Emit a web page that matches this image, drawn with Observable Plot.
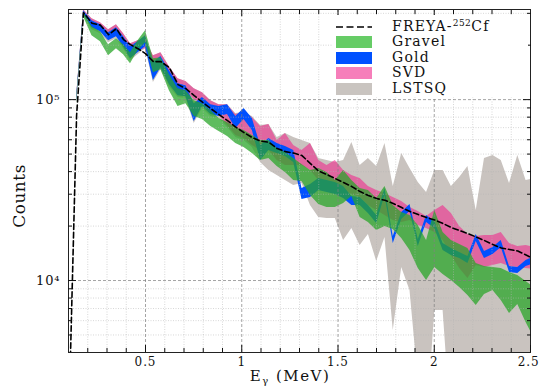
<!DOCTYPE html>
<html><head><meta charset="utf-8">
<script src="https://cdn.jsdelivr.net/npm/d3@7"></script>
<script src="https://cdn.jsdelivr.net/npm/@observablehq/plot@0.6"></script>
<style>
body{margin:0;background:#fff;}
#wrap{position:relative;width:540px;height:391px;font-family:"DejaVu Serif",serif;}
#chart svg text{letter-spacing:0.9px;}
#legend{position:absolute;left:333px;top:15px;width:195px;height:82px;background:#fff;}
.row{position:absolute;left:0;height:16px;width:195px;}
.sw{position:absolute;left:3px;top:2px;width:36px;height:12px;}
.swl{position:absolute;left:3px;top:0px;}
.lab{position:absolute;left:59px;top:-2px;font-size:14px;letter-spacing:1.2px;color:#111;white-space:nowrap;line-height:18px;}
.lab sup{font-size:9px;vertical-align:5px;line-height:0;letter-spacing:0.5px;}
</style></head>
<body><div id="wrap"><div id="chart"></div><div id="legend"></div></div>
<script>
// Energy bins (MeV)
const energy = [0.142,0.178,0.222,0.266,0.308,0.349,0.386,0.422,0.461,0.500,0.541,0.580,0.624,0.669,0.710,0.753,0.796,0.839,0.882,0.926,0.969,1.012,1.055,1.098,1.141,1.184,1.227,1.270,1.313,1.357,1.400,1.443,1.486,1.529,1.572,1.615,1.658,1.701,1.744,1.787,1.831,1.874,1.917,1.960,2.003,2.046,2.089,2.132,2.175,2.218,2.261,2.305,2.348,2.391,2.434,2.477,2.520];
const freyaEnergy = [0.100,0.142,0.178,0.222,0.266,0.308,0.349,0.386,0.422,0.461,0.500,0.541,0.580,0.624,0.669,0.710,0.753,0.796,0.839,0.882,0.926,0.969,1.012,1.055,1.098,1.141,1.184,1.227,1.270,1.313,1.357,1.400,1.443,1.486,1.529,1.572,1.615,1.658,1.701,1.744,1.787,1.831,1.874,1.917,1.960,2.003,2.046,2.089,2.132,2.175,2.218,2.261,2.305,2.348,2.391,2.434,2.477,2.520];
const freya = [1430,81600,302400,264700,258100,228700,246800,214600,201400,191300,179600,162200,162200,150200,121100,115000,105200,96870,89190,82650,76560,70490,65730,61670,59000,58100,53620,51610,50640,49050,44300,40270,38520,36600,34790,33070,31020,29490,28380,27780,26630,25310,24050,23150,22290,21590,20650,19620,18890,18180,17390,16630,15810,15120,14840,14560,13840,13140];

const svdHi = [103900,314300,280300,266400,243700,259700,231600,204000,211900,211900,175100,181900,152200,130600,125800,115000,109300,98740,93840,93840,82650,84780,79540,70940,72760,59370,64890,55710,52270,57140,46030,43190,46030,40530,38030,36600,33070,31420,30240,28750,27320,25310,24050,22570,24360,25960,23450,19880,17950,17510,17730,17730,18420,16010,15410,15610,15220];
const svdLo = [97500,298600,259700,246800,220100,234600,206600,181900,186600,191300,152200,162200,134000,115000,112100,100000,95030,86960,81590,71850,63260,60890,55710,52270,52270,46030,43190,43190,43190,40530,35690,34350,33490,31420,29860,28750,25960,24360,22860,21450,20910,21450,20130,19380,18420,16630,13740,11650,10260,12100,11800,12100,12420,11950,11800,11650,11500];

const goldHi = [102600,310200,273300,259700,234600,250000,223000,196300,209200,225800,160200,172900,144600,122600,119500,95030,102600,93840,91490,93840,80560,89190,78530,55710,60890,57140,55010,52270,32230,33920,36600,35690,34790,33070,29120,28750,25960,22860,32230,17510,23750,26300,16850,22860,21180,16010,15020,14280,13570,17950,14470,15220,16630,11950,11800,12900,13570];
const goldLo = [97500,294800,250000,237600,211900,223000,196300,168500,181900,196300,127400,150200,121100,105200,103900,75600,91490,82650,80560,82650,69160,77540,67420,46030,52270,50310,48430,44880,28030,28750,31420,30630,29860,28380,25960,25960,23450,20650,29490,16010,21730,24050,15410,20910,19380,14650,13740,13220,12420,16420,13220,13920,15220,11070,10930,11950,12420];

const gravelHi = [101300,306300,253200,237600,201400,217300,201400,181900,211900,240600,168500,170700,137400,115000,112100,98740,95030,86960,78530,74640,70050,67420,63260,59370,59370,53620,50960,47210,43750,40530,41570,39510,35690,40530,35690,32230,31420,28380,33070,25960,23750,22860,20130,16630,24360,18420,16630,15810,15020,12420,11950,11800,11650,11070,10660,9874,9150];
const gravelLo = [95030,287500,225800,209200,175100,191300,177300,158100,186600,206600,141000,146500,112100,91490,95030,80560,77540,70940,66570,62460,57140,54310,50310,46030,47210,42650,39510,35690,35240,29490,26300,25310,25310,26630,29120,22290,20910,18890,19880,19130,17070,14650,11650,10000,11800,10800,10000,9150,8264,7277,8370,8807,7755,6573,7370,5862,4782];

const lstsqHi = [103900,314300,280300,266400,243700,259700,231600,204000,211900,217300,175100,181900,152200,130600,125800,115000,109300,98740,93840,93840,83700,84780,80560,71850,72760,61670,64890,61670,59370,57140,47210,46030,44880,46030,57880,43190,47210,42650,57140,33070,50310,41570,34790,30630,40530,40530,33070,37080,42650,24360,47210,49050,46030,34350,49050,35690,36600];
const lstsqLo = [96260,291200,243700,231600,206600,217300,191300,164300,177300,191300,124200,146500,118000,102600,101300,73690,89190,80560,78530,70050,61670,59370,54310,44880,40530,38030,35690,33490,34350,25960,22290,22000,22000,16630,19380,15610,17950,12740,17290,5295,11800,8807,2803,1500,6829,6829,1500,1500,1500,1500,1500,1500,1500,1500,1500,1500,1500];

// Axis / grid tick values
const majorX = [0.5, 1, 1.5, 2];
const labelX = [0.5, 1, 1.5, 2, 2.5];
const minorX = [0.2,0.3,0.4,0.6,0.7,0.8,0.9,1.1,1.2,1.3,1.4,1.6,1.7,1.8,1.9,2.1,2.2,2.3,2.4];
const majorY = [1e4, 1e5];
const minorY = [5000,6000,7000,8000,9000,20000,30000,40000,50000,60000,70000,80000,90000,200000,300000];
const yTickLabel = {10000: "10\u2074", 100000: "10\u2075"};

const series = [
  {name: "LSTSQ", lo: lstsqLo, hi: lstsqHi, fill: "#c9c3bf", op: 1, legend: "#c9c4c0"},
  {name: "SVD", lo: svdLo, hi: svdHi, fill: "#f0288c", op: 0.6, legend: "#f67eba"},
  {name: "Gold", lo: goldLo, hi: goldHi, fill: "#0050ff", op: 1, legend: "#0050ff"},
  {name: "Gravel", lo: gravelLo, hi: gravelHi, fill: "#2aa52a", op: 0.75, legend: "#66cc66"}
];
const band = (s) => energy.map((e, i) => ({e, lo: s.lo[i], hi: s.hi[i]}));
const freyaRows = freyaEnergy.map((e, i) => ({e, c: freya[i]}));

const chart = Plot.plot({
  width: 540, height: 391,
  marginLeft: 68, marginRight: 10, marginTop: 9, marginBottom: 39,
  style: {fontFamily: '"DejaVu Serif", serif', fontSize: "12px", background: "white", color: "#111"},
  x: {domain: [0.1, 2.5], label: null},
  y: {type: "log", domain: [4000, 315000], label: null},
  marks: [
    ...series.map(s => Plot.areaY(band(s), {x: "e", y1: "lo", y2: "hi", fill: s.fill, fillOpacity: s.op, clip: true})),
    Plot.gridX(minorX, {stroke: "#b5b5b5", strokeOpacity: 0.9, strokeWidth: 0.6, strokeDasharray: "1,1.5"}),
    Plot.gridY(minorY, {stroke: "#b5b5b5", strokeOpacity: 0.9, strokeWidth: 0.6, strokeDasharray: "1,1.5"}),
    Plot.gridX(majorX, {stroke: "#808080", strokeOpacity: 0.9, strokeWidth: 0.8, strokeDasharray: "3,2"}),
    Plot.gridY(majorY, {stroke: "#808080", strokeOpacity: 0.9, strokeWidth: 0.8, strokeDasharray: "3,2"}),
    Plot.line(freyaRows, {x: "e", y: "c", stroke: "#000", strokeWidth: 1.6, strokeDasharray: "5.5,3", clip: true}),
    Plot.frame({stroke: "#222", strokeWidth: 1}),
    Plot.axisX(labelX, {anchor: "bottom", tickSize: -7, tickPadding: 12, fontSize: 12, tickFormat: d => String(d), label: null}),
    Plot.axisX(minorX, {anchor: "bottom", tickSize: -4, fill: "none", label: null}),
    Plot.axisX(majorX, {anchor: "top", tickSize: -6, fill: "none", label: null}),
    Plot.axisX(minorX, {anchor: "top", tickSize: -4, fill: "none", label: null}),
    Plot.axisY(majorY, {anchor: "left", tickSize: -8, tickPadding: 16, fontSize: 13, tickFormat: d => yTickLabel[d], label: null}),
    Plot.axisY(minorY, {anchor: "left", tickSize: -4, fill: "none", label: null}),
    Plot.axisY(majorY, {anchor: "right", tickSize: -8, fill: "none", label: null}),
    Plot.axisY(minorY, {anchor: "right", tickSize: -4, fill: "none", label: null})
  ]
});
document.getElementById("chart").appendChild(chart);

// keep the last x tick label ("2.5") inside the picture
d3.select(chart).selectAll("g[aria-label='x-axis tick label'] text")
  .filter(function() { return this.textContent === "2.5"; })
  .attr("text-anchor", "end").attr("dx", 9);

// Axis titles
const svg = d3.select(chart);
const xt = svg.append("text").attr("x", 290).attr("y", 381).attr("text-anchor", "middle")
  .attr("font-size", 15).attr("fill", "#111").style("letter-spacing", "1.5px");
xt.append("tspan").text("E");
xt.append("tspan").attr("font-size", 10).attr("dy", 3).text("\u03b3");
xt.append("tspan").attr("dy", -3).text(" (MeV)");
svg.append("text").attr("transform", "translate(25,196) rotate(-90)").attr("text-anchor", "middle")
  .attr("font-size", 17).attr("fill", "#111").style("letter-spacing", "0.5px").text("Counts");

// Legend
const legendItems = [
  {html: "FREYA-<sup>252</sup>Cf", line: true},
  ...series.slice().reverse().map(s => ({html: s.name, color: s.legend}))
];
const lg = document.getElementById("legend");
legendItems.forEach((it, i) => {
  const row = document.createElement("div");
  row.className = "row";
  row.style.top = (4 + i * 15.4) + "px";
  if (it.line) {
    row.insertAdjacentHTML("beforeend",
      '<svg class="swl" width="36" height="16"><line x1="0" y1="8" x2="36" y2="8" stroke="#000" stroke-width="1.6" stroke-dasharray="7,3.5"/></svg>');
  } else {
    const sw = document.createElement("span");
    sw.className = "sw";
    sw.style.background = it.color;
    row.appendChild(sw);
  }
  const lab = document.createElement("span");
  lab.className = "lab";
  lab.innerHTML = it.html;
  row.appendChild(lab);
  lg.appendChild(row);
});
</script>
</body></html>
